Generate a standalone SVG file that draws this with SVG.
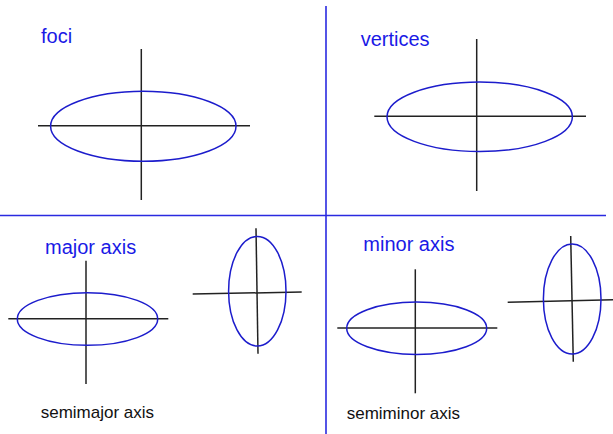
<svg xmlns="http://www.w3.org/2000/svg" width="613" height="434" viewBox="0 0 613 434">
<style>
.bg{fill:#ffffff}
.div{stroke:#2a2ae0;stroke-width:1.6;fill:none}
.ax{stroke:#222222;stroke-width:1.5;fill:none}
.el{stroke:#1c1ccc;stroke-width:1.5;fill:none}
.lbl{font-family:"Liberation Sans",Arial,sans-serif;font-size:20px;fill:#1a1ae6}
.sub{font-family:"Liberation Sans",Arial,sans-serif;font-size:17px;fill:#111111}
</style>
<rect class="bg" x="0" y="0" width="613" height="434"/>
<g id="connectors">
<line class="div" x1="326" y1="6" x2="326" y2="434"/>
<line class="div" x1="0" y1="215.5" x2="606" y2="215.5"/>
</g>
<g id="foci">
<text class="lbl" x="41" y="43">foci</text>
<line class="ax" x1="141.3" y1="49" x2="141.3" y2="200"/>
<line class="ax" x1="38" y1="125.7" x2="250" y2="125.7"/>
<ellipse class="el" cx="143.3" cy="126.3" rx="92.7" ry="35"/>
</g>
<g id="vertices">
<text class="lbl" x="360.7" y="45.7">vertices</text>
<line class="ax" x1="476.7" y1="39" x2="476.7" y2="191"/>
<line class="ax" x1="374.3" y1="116.3" x2="586" y2="116.3"/>
<ellipse class="el" cx="479.7" cy="116.8" rx="92.7" ry="34.8"/>
</g>
<g id="major-axis">
<text class="lbl" x="45" y="254.3">major axis</text>
<line class="ax" x1="86" y1="260.7" x2="86" y2="384"/>
<line class="ax" x1="8.3" y1="318.7" x2="168.3" y2="318.7"/>
<ellipse class="el" cx="87.5" cy="319" rx="70.2" ry="26.3"/>
<line class="ax" x1="256" y1="228.3" x2="258" y2="353.7"/>
<line class="ax" x1="192.7" y1="294" x2="301.7" y2="292"/>
<ellipse class="el" cx="257.3" cy="291.2" rx="28.7" ry="54.8"/>
<text class="sub" x="40.7" y="418.3">semimajor axis</text>
</g>
<g id="minor-axis">
<text class="lbl" x="363.3" y="251">minor axis</text>
<line class="ax" x1="415.3" y1="269.3" x2="415.3" y2="393.3"/>
<line class="ax" x1="337.3" y1="328" x2="497.3" y2="328"/>
<ellipse class="el" cx="416.7" cy="328.2" rx="70" ry="26.2"/>
<line class="ax" x1="570.7" y1="236" x2="573.3" y2="361.7"/>
<line class="ax" x1="507.7" y1="302.3" x2="613" y2="299.7"/>
<ellipse class="el" cx="572.2" cy="299" rx="28.8" ry="55"/>
<text class="sub" x="346.7" y="419">semiminor axis</text>
</g>
</svg>
